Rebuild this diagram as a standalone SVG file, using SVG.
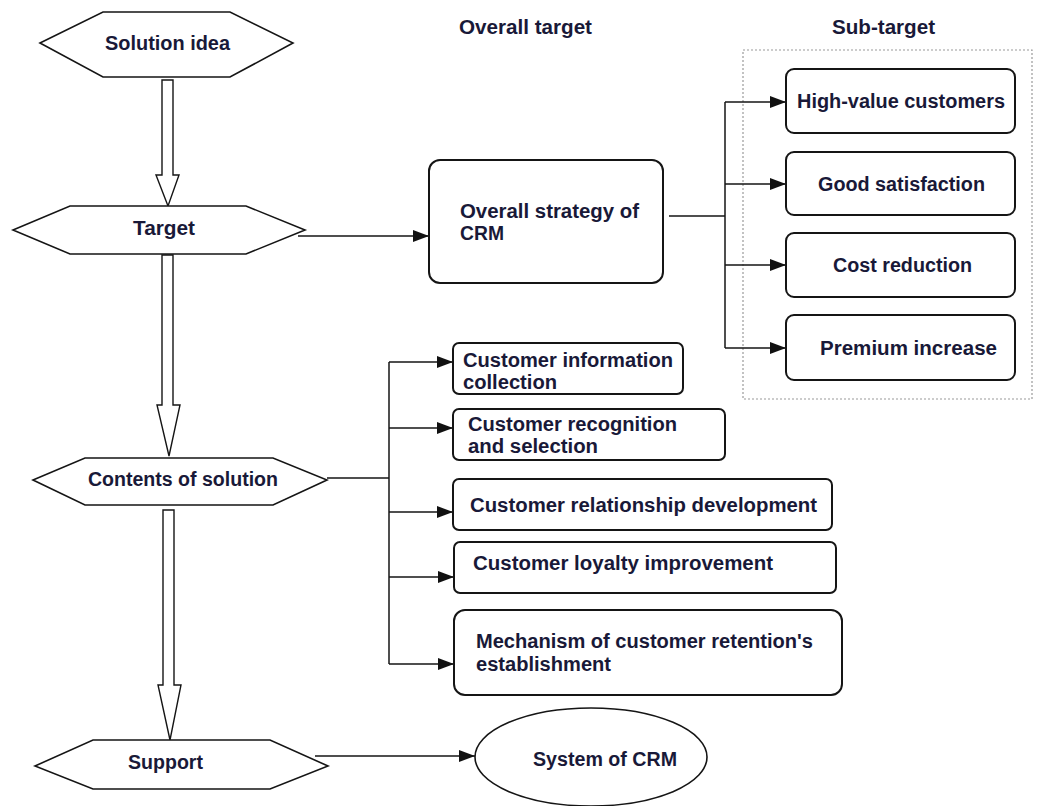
<svg xmlns="http://www.w3.org/2000/svg" width="1039" height="806" viewBox="0 0 1039 806">
  <style>
    .bg { fill: #ffffff; }
    .hex { fill: #ffffff; stroke: #151515; stroke-width: 1.6; stroke-linejoin: miter; }
    .box { fill: #ffffff; stroke: #151515; stroke-width: 2; }
    .frame { fill: none; stroke: #9a9a9a; stroke-width: 1.2; stroke-dasharray: 2 2; }
    .flow { fill: #ffffff; stroke: #151515; stroke-width: 1.4; stroke-linejoin: miter; }
    .line { fill: none; stroke: #151515; stroke-width: 1.5; }
    .arr { fill: none; stroke: #151515; stroke-width: 1.5; marker-end: url(#head); }
    text { font-family: "Liberation Sans", Arial, sans-serif; font-weight: bold; font-size: 20px; fill: #191938; }
  </style>
  <defs>
    <marker id="head" viewBox="0 0 16 12" refX="16" refY="6" markerWidth="16" markerHeight="12" markerUnits="userSpaceOnUse" orient="auto">
      <path d="M0,0 L16,6 L0,12 Z" fill="#111111"/>
    </marker>
  </defs>

  <rect class="bg" x="0" y="0" width="1039" height="806"/>

  <!-- column headings -->
  <g id="headings">
    <text x="459" y="34" textLength="133" lengthAdjust="spacingAndGlyphs">Overall target</text>
    <text x="832" y="34" textLength="103" lengthAdjust="spacingAndGlyphs">Sub-target</text>
  </g>

  <!-- dotted frame around the sub-targets -->
  <rect class="frame" x="743" y="50" width="289" height="349"/>

  <!-- connectors -->
  <g id="connectors">
    <!-- hollow flow arrows down the left column -->
    <polygon class="flow" points="162,80 173,80 173,175 179,175 168,206 156,175 162,175"/>
    <polygon class="flow" points="162,255 173,255 173,405 180,405 169,456 157,405 162,405"/>
    <polygon class="flow" points="163,510 174,510 174,685 181,685 170,740 158,685 163,685"/>

    <!-- Target -> overall strategy -->
    <path class="arr" d="M298,236 H429"/>

    <!-- overall strategy -> sub-targets -->
    <path class="line" d="M669,216 H725"/>
    <path class="line" d="M725,102 V348"/>
    <path class="arr" d="M725,102 H786"/>
    <path class="arr" d="M725,184 H786"/>
    <path class="arr" d="M725,265 H786"/>
    <path class="arr" d="M725,348 H786"/>

    <!-- contents -> solution items -->
    <path class="line" d="M327,478 H389"/>
    <path class="line" d="M389,362 V664"/>
    <path class="arr" d="M389,362 H453"/>
    <path class="arr" d="M389,428 H453"/>
    <path class="arr" d="M389,512 H453"/>
    <path class="arr" d="M389,577 H454"/>
    <path class="arr" d="M389,664 H454"/>

    <!-- support -> system of CRM -->
    <path class="arr" d="M315,756 H475"/>
  </g>

  <!-- left column -->
  <g id="solution-idea">
    <polygon class="hex" points="40,43 103,12 230,12 293,43 230,77 103,77"/>
    <text x="105" y="50" textLength="125" lengthAdjust="spacingAndGlyphs">Solution idea</text>
  </g>
  <g id="target">
    <polygon class="hex" points="13,230 70,206 246,206 305,230 246,254 70,254"/>
    <text x="133" y="235" textLength="62" lengthAdjust="spacingAndGlyphs">Target</text>
  </g>
  <g id="contents">
    <polygon class="hex" points="33,480 85,458 273,458 327,480 273,505 85,505"/>
    <text x="88" y="486" textLength="190" lengthAdjust="spacingAndGlyphs">Contents of solution</text>
  </g>
  <g id="support">
    <polygon class="hex" points="35,766 93,740 270,740 328,766 270,789 93,789"/>
    <text x="128" y="769" textLength="75" lengthAdjust="spacingAndGlyphs">Support</text>
  </g>

  <!-- overall target -->
  <g id="overall-strategy">
    <rect class="box" x="429" y="160" width="234" height="123" rx="11"/>
    <text x="460" y="218" textLength="179" lengthAdjust="spacingAndGlyphs">Overall strategy of</text>
    <text x="460" y="240" textLength="44" lengthAdjust="spacingAndGlyphs">CRM</text>
  </g>

  <!-- sub-targets -->
  <g id="high-value">
    <rect class="box" x="786" y="69" width="229" height="64" rx="8"/>
    <text x="797" y="108" textLength="208" lengthAdjust="spacingAndGlyphs">High-value customers</text>
  </g>
  <g id="satisfaction">
    <rect class="box" x="786" y="152" width="229" height="63" rx="8"/>
    <text x="818" y="191" textLength="167" lengthAdjust="spacingAndGlyphs">Good satisfaction</text>
  </g>
  <g id="cost">
    <rect class="box" x="786" y="233" width="229" height="64" rx="8"/>
    <text x="833" y="272" textLength="139" lengthAdjust="spacingAndGlyphs">Cost reduction</text>
  </g>
  <g id="premium">
    <rect class="box" x="786" y="315" width="229" height="65" rx="8"/>
    <text x="820" y="355" textLength="177" lengthAdjust="spacingAndGlyphs">Premium increase</text>
  </g>

  <!-- contents of solution -->
  <g id="info-collection">
    <rect class="box" x="453" y="343" width="230" height="51" rx="6"/>
    <text x="463" y="367" textLength="210" lengthAdjust="spacingAndGlyphs">Customer information</text>
    <text x="463" y="389" textLength="94" lengthAdjust="spacingAndGlyphs">collection</text>
  </g>
  <g id="recognition">
    <rect class="box" x="453" y="409" width="272" height="51" rx="6"/>
    <text x="468" y="431" textLength="209" lengthAdjust="spacingAndGlyphs">Customer recognition</text>
    <text x="468" y="453" textLength="130" lengthAdjust="spacingAndGlyphs">and selection</text>
  </g>
  <g id="relationship">
    <rect class="box" x="453" y="479" width="379" height="51" rx="6"/>
    <text x="470" y="512" textLength="347" lengthAdjust="spacingAndGlyphs">Customer relationship development</text>
  </g>
  <g id="loyalty">
    <rect class="box" x="454" y="542" width="382" height="51" rx="6"/>
    <text x="473" y="570" textLength="300" lengthAdjust="spacingAndGlyphs">Customer loyalty improvement</text>
  </g>
  <g id="retention">
    <rect class="box" x="454" y="610" width="388" height="85" rx="11"/>
    <text x="476" y="648" textLength="337" lengthAdjust="spacingAndGlyphs">Mechanism of customer retention's</text>
    <text x="476" y="671" textLength="135" lengthAdjust="spacingAndGlyphs">establishment</text>
  </g>

  <!-- support -->
  <g id="system-crm">
    <ellipse class="hex" cx="591" cy="757" rx="116" ry="49"/>
    <text x="533" y="766" textLength="144" lengthAdjust="spacingAndGlyphs">System of CRM</text>
  </g>
</svg>
